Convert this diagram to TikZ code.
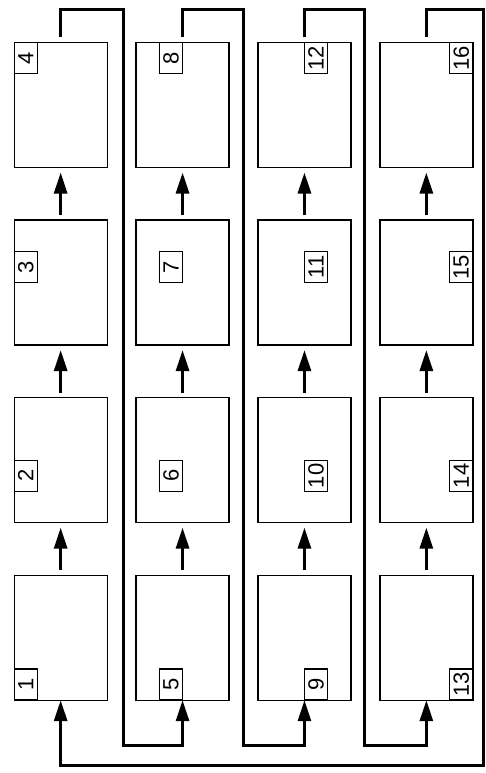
\documentclass[tikz,border=0pt]{standalone}
\usepackage{fontspec}
\setmainfont{Liberation Sans}
\usepackage{tikz}
\usetikzlibrary{arrows.meta,matrix,positioning}

\begin{document}
\begin{tikzpicture}[
    x=1pt, y=1pt,
    >={Triangle[length=21pt,width=13pt]},
    page/.style={
      draw,
      rectangle,
      line width=1.3pt,
      minimum width=93pt,
      minimum height=125pt,
      inner sep=0pt,
      outer sep=0pt
    },
    tag/.style={
      draw,
      rectangle,
      rotate=90,
      line width=1.3pt,
      minimum width=31pt,
      minimum height=23pt,
      inner sep=0pt,
      font=\fontsize{22}{22}\selectfont
    },
    link/.style={draw,->,line width=3pt},
    every edge/.style={draw,->,line width=3pt,shorten <=5pt,shorten >=5pt}
  ]
  \useasboundingbox (0,0) rectangle (486,773);
  \matrix (m) [row sep=51.25pt, column sep=27.6pt] at (243.5,401.6) {
    \node[page] (p4) {}; &
    \node[page] (p8) {}; &
    \node[page] (p12) {}; &
    \node[page] (p16) {}; \\
    \node[page] (p3) {}; &
    \node[page] (p7) {}; &
    \node[page] (p11) {}; &
    \node[page] (p15) {}; \\
    \node[page] (p2) {}; &
    \node[page] (p6) {}; &
    \node[page] (p10) {}; &
    \node[page] (p14) {}; \\
    \node[page] (p1) {}; &
    \node[page] (p5) {}; &
    \node[page] (p9) {}; &
    \node[page] (p13) {}; \\
  };
  % page numbers, one cell of a 4x4 grid per page
  \node[tag] at ([shift={(11.6,15.6)}]p1.south west) {1};
  \node[tag] at ([shift={(11.6,46.9)}]p2.south west) {2};
  \node[tag] at ([shift={(11.6,78.1)}]p3.south west) {3};
  \node[tag] at ([shift={(11.6,109.4)}]p4.south west) {4};
  \node[tag] at ([shift={(34.9,15.6)}]p5.south west) {5};
  \node[tag] at ([shift={(34.9,46.9)}]p6.south west) {6};
  \node[tag] at ([shift={(34.9,78.1)}]p7.south west) {7};
  \node[tag] at ([shift={(34.9,109.4)}]p8.south west) {8};
  \node[tag] at ([shift={(58.1,15.6)}]p9.south west) {9};
  \node[tag] at ([shift={(58.1,46.9)}]p10.south west) {10};
  \node[tag] at ([shift={(58.1,78.1)}]p11.south west) {11};
  \node[tag] at ([shift={(58.1,109.4)}]p12.south west) {12};
  \node[tag] at ([shift={(81.4,15.6)}]p13.south west) {13};
  \node[tag] at ([shift={(81.4,46.9)}]p14.south west) {14};
  \node[tag] at ([shift={(81.4,78.1)}]p15.south west) {15};
  \node[tag] at ([shift={(81.4,109.4)}]p16.south west) {16};
  \path (p1) edge (p2)
        (p2) edge (p3)
        (p3) edge (p4);
  \path (p5) edge (p6)
        (p6) edge (p7)
        (p7) edge (p8);
  \path (p9) edge (p10)
        (p10) edge (p11)
        (p11) edge (p12);
  \path (p13) edge (p14)
        (p14) edge (p15)
        (p15) edge (p16);
  % return lines
  \coordinate (top) at (0,763);
  \coordinate (low) at (0,27);
  \coordinate (base) at (0,7);
  \coordinate (g1) at (123,0);
  \coordinate (g2) at (243.5,0);
  \coordinate (g3) at (364,0);
  \coordinate (g4) at (483,0);
  \draw[link] ([yshift=6pt]p4.north) -- (p4.north |- top) -| (g1 |- low) -| (p5.south);
  \draw[link] ([yshift=6pt]p8.north) -- (p8.north |- top) -| (g2 |- low) -| (p9.south);
  \draw[link] ([yshift=6pt]p12.north) -- (p12.north |- top) -| (g3 |- low) -| (p13.south);
  \draw[link] ([yshift=6pt]p16.north) -- (p16.north |- top) -| (g4 |- base) -| (p1.south);
\end{tikzpicture}
\end{document}
